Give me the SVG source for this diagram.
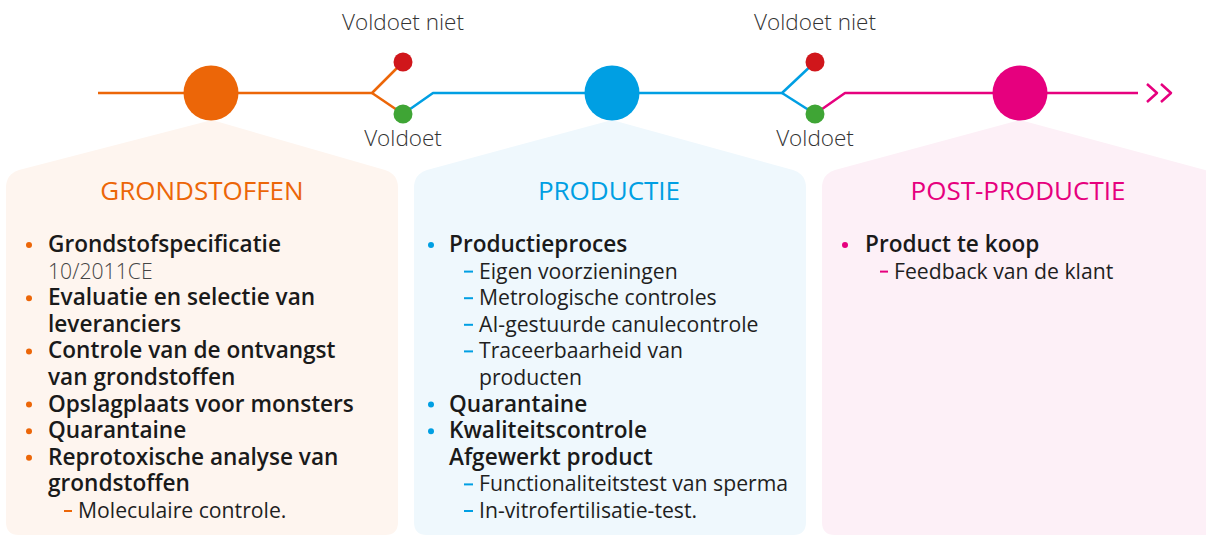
<svg xmlns="http://www.w3.org/2000/svg" width="1206" height="536" viewBox="0 0 1206 536">
<style>
text{font-family:"Open Sans","Liberation Sans",sans-serif}
.lbl{font-size:22.5px;font-weight:300;fill:#333;text-anchor:middle}
.ttl{font-size:26px;font-weight:400;text-anchor:middle}
.b{font-size:22.6px;font-weight:600;fill:#1a1a1a}
.s{font-size:21.2px;font-weight:400;fill:#1f1f1f}
.n{font-size:21.2px;font-weight:300;fill:#444}
.ln{fill:none;stroke-width:2.5;stroke-linejoin:round}
.o{stroke:#EC6608}.bl{stroke:#009FE3}.p{stroke:#E6007E}
.dash{stroke-width:2}
</style>
<g id="panel-grondstoffen">
<path d="M212,120 L385,170 Q398,174 398,188 L398,522 Q398,535 385,535 L19,535 Q6,535 6,522 L6,188 Q6,174 19,170 Z" fill="#FEF5EF"/>
<text class="ttl" x="202" y="200" fill="#EC6608">GRONDSTOFFEN</text>
<g fill="#EC6608">
<circle cx="29" cy="245" r="3"/><circle cx="29" cy="298.2" r="3"/><circle cx="29" cy="351.4" r="3"/><circle cx="29" cy="404.6" r="3"/><circle cx="29" cy="431.2" r="3"/><circle cx="29" cy="457.8" r="3"/>
</g>
<line class="o dash" x1="64" y1="511" x2="72" y2="511"/>
<text class="b" x="48" y="252">Grondstofspecificatie</text>
<text class="n" x="48" y="278.6">10/2011CE</text>
<text class="b" x="48" y="305.2">Evaluatie en selectie van</text>
<text class="b" x="48" y="331.8">leveranciers</text>
<text class="b" x="48" y="358.4">Controle van de ontvangst</text>
<text class="b" x="48" y="385">van grondstoffen</text>
<text class="b" x="48" y="411.6">Opslagplaats voor monsters</text>
<text class="b" x="48" y="438.2">Quarantaine</text>
<text class="b" x="48" y="464.8">Reprotoxische analyse van</text>
<text class="b" x="48" y="491.4">grondstoffen</text>
<text class="s" x="78" y="518">Moleculaire controle.</text>
</g>
<g id="panel-productie">
<path d="M612,120 L793,170 Q806,174 806,188 L806,522 Q806,535 793,535 L427,535 Q414,535 414,522 L414,188 Q414,174 427,170 Z" fill="#EFF8FD"/>
<text class="ttl" x="609" y="200" fill="#009FE3">PRODUCTIE</text>
<g fill="#009FE3">
<circle cx="431" cy="245" r="3"/><circle cx="431" cy="404.6" r="3"/><circle cx="431" cy="431.2" r="3"/>
</g>
<g class="bl dash">
<line x1="464" y1="271.6" x2="473" y2="271.6"/><line x1="464" y1="298.2" x2="473" y2="298.2"/><line x1="464" y1="324.8" x2="473" y2="324.8"/><line x1="464" y1="351.4" x2="473" y2="351.4"/><line x1="464" y1="484.4" x2="473" y2="484.4"/><line x1="464" y1="511" x2="473" y2="511"/>
</g>
<text class="b" x="449" y="252">Productieproces</text>
<text class="s" x="479" y="278.6">Eigen voorzieningen</text>
<text class="s" x="479" y="305.2">Metrologische controles</text>
<text class="s" x="479" y="331.8">AI-gestuurde canulecontrole</text>
<text class="s" x="479" y="358.4">Traceerbaarheid van</text>
<text class="s" x="479" y="385">producten</text>
<text class="b" x="449" y="411.6">Quarantaine</text>
<text class="b" x="449" y="438.2">Kwaliteitscontrole</text>
<text class="b" x="449" y="464.8">Afgewerkt product</text>
<text class="s" x="479" y="491.4">Functionaliteitstest van sperma</text>
<text class="s" x="479" y="518">In-vitrofertilisatie-test.</text>
</g>
<g id="panel-postproductie">
<path d="M1020,120 L1205,170 Q1218,174 1218,188 L1218,522 Q1218,535 1205,535 L835,535 Q822,535 822,522 L822,188 Q822,174 835,170 Z" fill="#FDF0F7"/>
<text class="ttl" x="1018" y="200" fill="#E6007E">POST-PRODUCTIE</text>
<circle cx="845" cy="245" r="3" fill="#E6007E"/>
<line class="p dash" x1="880" y1="271.6" x2="888" y2="271.6"/>
<text class="b" x="865" y="252">Product te koop</text>
<text class="s" x="894" y="278.6">Feedback van de klant</text>
</g>
<g id="connectors">
<polyline class="ln o" points="98,93 372,93 403,62"/>
<polyline class="ln o" points="372,93 403,114"/>
<polyline class="ln bl" points="403,114 433,93 782,93 815,62"/>
<polyline class="ln bl" points="782,93 815,114"/>
<polyline class="ln p" points="815,114 845,93 1138,93"/>
<polyline class="ln p" points="1147,84 1157,93 1147,102"/>
<polyline class="ln p" points="1161,84 1171,93 1161,102"/>
</g>
<g id="stage-grondstoffen"><circle cx="211" cy="93" r="27.5" fill="#EC6608"/></g>
<g id="stage-productie"><circle cx="612" cy="93" r="27.5" fill="#009FE3"/></g>
<g id="stage-postproductie"><circle cx="1020" cy="93" r="27.5" fill="#E6007E"/></g>
<g id="check-1">
<circle cx="403" cy="62" r="9.5" fill="#D0161B"/>
<circle cx="403" cy="114" r="9.5" fill="#3FA535"/>
<text class="lbl" x="403" y="30">Voldoet niet</text>
<text class="lbl" x="403" y="146">Voldoet</text>
</g>
<g id="check-2">
<circle cx="815" cy="62" r="9.5" fill="#D0161B"/>
<circle cx="815" cy="114" r="9.5" fill="#3FA535"/>
<text class="lbl" x="815" y="30">Voldoet niet</text>
<text class="lbl" x="815" y="146">Voldoet</text>
</g>
</svg>
